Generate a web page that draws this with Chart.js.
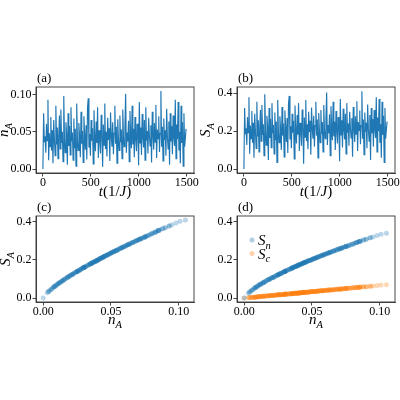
<!DOCTYPE html>
<html>
<head>
<meta charset="utf-8">
<script src="https://cdn.jsdelivr.net/npm/chart.js@4.4.1/dist/chart.umd.min.js"></script>
<style>
  html, body { margin: 0; padding: 0; background: #fff; }
  #wrap { position: relative; width: 400px; height: 400px; }
  .cell { position: absolute; width: 200px; height: 200px; }
</style>
</head>
<body>
<div id="wrap">
  <div class="cell" style="left:0;top:0"><canvas id="ca" width="200" height="200"></canvas></div>
  <div class="cell" style="left:200px;top:0"><canvas id="cb" width="200" height="200"></canvas></div>
  <div class="cell" style="left:0;top:200px"><canvas id="cc" width="200" height="200"></canvas></div>
  <div class="cell" style="left:200px;top:200px"><canvas id="cd" width="200" height="200"></canvas></div>
</div>
<script>
// time step between samples, in units of 1/J
const timeStep = 7.5;

// n_A(t)
const nA = [
  0.000,0.075,0.036,0.044,0.022,0.061,0.038,0.093,0.012,0.048,
  0.030,0.070,0.025,0.052,0.008,0.066,0.040,0.018,0.085,0.033,
  0.056,0.014,0.045,0.072,0.027,0.080,0.035,0.050,0.010,0.098,
  0.041,0.022,0.063,0.046,0.006,0.075,0.031,0.058,0.019,0.083,
  0.037,0.049,0.012,0.068,0.028,0.054,0.004,0.088,0.039,0.025,
  0.062,0.043,0.016,0.077,0.034,0.051,0.009,0.071,0.045,0.026,
  0.059,0.013,0.082,0.095,0.029,0.047,0.018,0.066,0.038,0.055,
  0.007,0.079,0.042,0.024,0.064,0.035,0.083,0.015,0.052,0.040,
  0.021,0.073,0.046,0.003,0.060,0.032,0.088,0.027,0.050,0.017,
  0.069,0.039,0.055,0.011,0.076,0.044,0.030,0.063,0.020,0.048,
  0.085,0.034,0.057,0.008,0.067,0.041,0.025,0.072,0.036,0.053,
  0.014,0.080,0.043,0.030,0.058,0.101,0.022,0.049,0.037,0.065,
  0.010,0.078,0.045,0.028,0.085,0.033,0.054,0.016,0.070,0.040,
  0.024,0.061,0.047,0.005,0.090,0.035,0.056,0.019,0.074,0.042,
  0.029,0.066,0.012,0.083,0.038,0.051,0.021,0.069,0.044,0.031,
  0.059,0.009,0.077,0.046,0.026,0.062,0.036,0.086,0.015,0.053,
  0.041,0.071,0.023,0.048,0.105,0.030,0.057,0.011,0.068,0.039,
  0.052,0.018,0.081,0.044,0.027,0.064,0.006,0.075,0.037,0.058,
  0.020,0.072,0.043,0.031,0.093,0.014,0.060,0.040,0.090,0.025,
  0.050,0.008,0.085,0.035,0.063,0.004,0.075,0.030,0.042,0.054
];

// S_A(t)
const SA = [
  0.000,0.321,0.184,0.214,0.126,0.274,0.191,0.378,0.080,0.229,
  0.160,0.305,0.139,0.243,0.059,0.291,0.199,0.109,0.354,0.172,
  0.257,0.090,0.218,0.311,0.147,0.337,0.180,0.236,0.070,0.394,
  0.203,0.126,0.281,0.222,0.047,0.321,0.164,0.264,0.113,0.347,
  0.188,0.232,0.080,0.298,0.152,0.250,0.035,0.363,0.195,0.139,
  0.278,0.210,0.100,0.327,0.176,0.240,0.064,0.308,0.218,0.143,
  0.268,0.085,0.344,0.385,0.156,0.225,0.109,0.291,0.191,0.254,
  0.053,0.334,0.207,0.135,0.285,0.180,0.347,0.095,0.243,0.199,
  0.122,0.314,0.222,0.028,0.271,0.168,0.363,0.147,0.236,0.104,
  0.302,0.195,0.254,0.075,0.324,0.214,0.160,0.281,0.118,0.229,
  0.354,0.176,0.261,0.059,0.295,0.203,0.139,0.311,0.184,0.247,
  0.090,0.337,0.210,0.160,0.264,0.403,0.126,0.232,0.188,0.288,
  0.070,0.330,0.218,0.152,0.354,0.172,0.250,0.100,0.305,0.199,
  0.135,0.274,0.225,0.041,0.369,0.180,0.257,0.113,0.318,0.207,
  0.156,0.291,0.080,0.347,0.191,0.240,0.122,0.302,0.214,0.164,
  0.268,0.064,0.327,0.222,0.143,0.278,0.184,0.357,0.095,0.247,
  0.203,0.308,0.131,0.229,0.410,0.160,0.261,0.075,0.298,0.195,
  0.243,0.109,0.340,0.214,0.147,0.285,0.047,0.321,0.188,0.264,
  0.118,0.311,0.210,0.164,0.378,0.090,0.271,0.199,0.369,0.139,
  0.236,0.059,0.354,0.180,0.281,0.035,0.321,0.160,0.207,0.250
];

// S_n
const Sn = [
  0.000,0.271,0.160,0.185,0.111,0.233,0.166,0.316,0.072,0.197,
  0.140,0.258,0.122,0.208,0.054,0.247,0.172,0.097,0.297,0.150,
  0.219,0.081,0.188,0.263,0.129,0.283,0.157,0.202,0.063,0.328,
  0.176,0.111,0.239,0.191,0.043,0.271,0.143,0.225,0.100,0.291,
  0.163,0.199,0.072,0.252,0.133,0.214,0.032,0.304,0.169,0.122,
  0.236,0.181,0.089,0.275,0.153,0.206,0.058,0.260,0.188,0.126,
  0.228,0.076,0.289,0.321,0.137,0.194,0.097,0.247,0.166,0.217,
  0.048,0.281,0.179,0.119,0.242,0.157,0.291,0.085,0.208,0.172,
  0.108,0.265,0.191,0.026,0.231,0.147,0.304,0.129,0.202,0.093,
  0.256,0.169,0.217,0.068,0.273,0.185,0.140,0.239,0.105,0.197,
  0.297,0.153,0.223,0.054,0.250,0.176,0.122,0.263,0.160,0.211,
  0.081,0.283,0.181,0.140,0.225,0.335,0.111,0.199,0.163,0.244,
  0.063,0.278,0.188,0.133,0.297,0.150,0.214,0.089,0.258,0.172,
  0.119,0.233,0.194,0.038,0.309,0.157,0.219,0.100,0.268,0.179,
  0.137,0.247,0.072,0.291,0.166,0.206,0.108,0.256,0.185,0.143,
  0.228,0.058,0.275,0.191,0.126,0.236,0.160,0.299,0.085,0.211,
  0.176,0.260,0.116,0.197,0.340,0.140,0.223,0.068,0.252,0.169,
  0.208,0.097,0.286,0.185,0.129,0.242,0.043,0.271,0.163,0.225,
  0.105,0.263,0.181,0.143,0.316,0.081,0.231,0.172,0.309,0.122,
  0.202,0.054,0.297,0.157,0.239,0.032,0.271,0.140,0.179,0.214
];

// S_c
const Sc = [
  0.000,0.050,0.024,0.029,0.015,0.041,0.025,0.062,0.008,0.032,
  0.020,0.047,0.017,0.035,0.005,0.044,0.027,0.012,0.057,0.022,
  0.038,0.009,0.030,0.048,0.018,0.054,0.023,0.034,0.007,0.066,
  0.027,0.015,0.042,0.031,0.004,0.050,0.021,0.039,0.013,0.056,
  0.025,0.033,0.008,0.046,0.019,0.036,0.003,0.059,0.026,0.017,
  0.042,0.029,0.011,0.052,0.023,0.034,0.006,0.048,0.030,0.017,
  0.040,0.009,0.055,0.064,0.019,0.031,0.012,0.044,0.025,0.037,
  0.005,0.053,0.028,0.016,0.043,0.023,0.056,0.010,0.035,0.027,
  0.014,0.049,0.031,0.002,0.040,0.021,0.059,0.018,0.034,0.011,
  0.046,0.026,0.037,0.007,0.051,0.029,0.020,0.042,0.013,0.032,
  0.057,0.023,0.038,0.005,0.045,0.027,0.017,0.048,0.024,0.036,
  0.009,0.054,0.029,0.020,0.039,0.068,0.015,0.033,0.025,0.044,
  0.007,0.052,0.030,0.019,0.057,0.022,0.036,0.011,0.047,0.027,
  0.016,0.041,0.031,0.003,0.060,0.023,0.038,0.013,0.050,0.028,
  0.019,0.044,0.008,0.056,0.025,0.034,0.014,0.046,0.029,0.021,
  0.040,0.006,0.052,0.031,0.017,0.042,0.024,0.058,0.010,0.036,
  0.027,0.048,0.015,0.032,0.070,0.020,0.038,0.007,0.046,0.026,
  0.035,0.012,0.054,0.029,0.018,0.043,0.004,0.050,0.025,0.039,
  0.013,0.048,0.029,0.021,0.062,0.009,0.040,0.027,0.060,0.017,
  0.034,0.005,0.057,0.023,0.042,0.003,0.050,0.020,0.028,0.036
];

const timeTicks = [0, 500, 1000, 1500];
const nTicks = [0, 0.05, 0.10];
const sTicks = [0, 0.2, 0.4];

const BLUE = '#1f77b4';
const SERIF = '"Liberation Serif", "DejaVu Serif", serif';

const times = nA.map((v, i) => i * timeStep);

// mixed italic / subscript text, centred on cx (or starting at cx), baseline at by
function drawRich(ctx, segs, cx, by, align) {
  const fontOf = s => (s.it ? 'italic ' : '') + (s.sub ? '10.5px ' : '15px ') + SERIF;
  let total = 0;
  segs.forEach(s => { ctx.font = fontOf(s); total += ctx.measureText(s.t).width; });
  let x = align === 'left' ? cx : cx - total / 2;
  ctx.textAlign = 'left';
  ctx.textBaseline = 'alphabetic';
  segs.forEach(s => {
    ctx.font = fontOf(s);
    ctx.fillText(s.t, x, by + (s.sub ? 3.5 : 0));
    x += ctx.measureText(s.t).width;
  });
}

const deco = {
  id: 'deco',
  afterDraw(chart, args, o) {
    const { ctx, chartArea: a } = chart;
    ctx.save();
    ctx.strokeStyle = '#333';
    ctx.lineWidth = 0.9;
    ctx.strokeRect(a.left, a.top, a.right - a.left, a.bottom - a.top);
    ctx.fillStyle = '#000';
    ctx.font = '13px ' + SERIF;
    ctx.textAlign = 'left';
    ctx.textBaseline = 'alphabetic';
    ctx.fillText(o.panel, a.left + 1, a.top - 5);
    if (o.xTitle) drawRich(ctx, o.xTitle, (a.left + a.right) / 2, o.xTitleY);
    if (o.legend) {
      o.legend.forEach((item, k) => {
        const y = a.top + 24 + k * 13.5;
        ctx.fillStyle = item.color;
        ctx.beginPath();
        ctx.arc(a.left + 15, y, 2.5, 0, Math.PI * 2);
        ctx.fill();
        ctx.fillStyle = '#000';
        drawRich(ctx, item.label, a.left + 21, y + 5, 'left');
      });
    }
    if (o.yTitle) {
      ctx.translate(o.yTitleX, (a.top + a.bottom) / 2);
      ctx.rotate(-Math.PI / 2);
      drawRich(ctx, o.yTitle, 0, 0);
    }
    ctx.restore();
  }
};

function axis(min, max, ticks, digits, fit, pad) {
  return {
    type: 'linear',
    min: min,
    max: max,
    afterBuildTicks: s => { s.ticks = ticks.map(v => ({ value: v })); },
    afterFit: fit,
    grid: { drawOnChartArea: false, drawTicks: true, tickLength: 3.5, color: '#333', lineWidth: 0.9 },
    border: { display: true, color: '#333', width: 0.9 },
    ticks: {
      color: '#000',
      padding: pad,
      maxRotation: 0,
      font: { family: SERIF, size: 12 },
      callback: v => digits === null ? String(v) : Number(v).toFixed(digits)
    }
  };
}

function makeChart(id, cfg) {
  return new Chart(document.getElementById(id).getContext('2d'), {
    type: cfg.type,
    data: { datasets: cfg.datasets },
    options: {
      responsive: false,
      animation: false,
      layout: { padding: cfg.padding },
      plugins: { legend: { display: false }, tooltip: { enabled: false }, deco: cfg.deco },
      scales: {
        x: axis(cfg.x[0], cfg.x[1], cfg.xTicks, cfg.xDigits, s => { s.height = cfg.xh; }, -1),
        y: axis(cfg.y[0], cfg.y[1], cfg.yTicks, cfg.yDigits, s => { s.width = cfg.yw; }, 1)
      }
    },
    plugins: [deco]
  });
}

const lineStyle = { borderColor: BLUE, borderWidth: 1.15, pointRadius: 0, tension: 0, fill: false };
const dotStyle = c => ({ backgroundColor: c, borderWidth: 0, pointRadius: 2.5 });

const tLabel = [{ t: 't', it: true }, { t: '(1/' }, { t: 'J', it: true }, { t: ')' }];
const nLabel = [{ t: 'n', it: true }, { t: 'A', it: true, sub: true }];
const sLabel = [{ t: 'S', it: true }, { t: 'A', it: true, sub: true }];

makeChart('ca', {
  type: 'line',
  datasets: [{ data: times.map((t, i) => ({ x: t, y: nA[i] })), ...lineStyle }],
  x: [-72, 1575], xTicks: timeTicks, xDigits: null,
  y: [-0.00525, 0.11025], yTicks: nTicks, yDigits: 2,
  padding: { top: 87, right: 6, left: 0, bottom: 0 }, xh: 27, yw: 36,
  deco: { panel: '(a)', xTitle: tLabel, xTitleY: 196, yTitle: nLabel, yTitleX: 8 }
});

makeChart('cb', {
  type: 'line',
  datasets: [{ data: times.map((t, i) => ({ x: t, y: SA[i] })), ...lineStyle }],
  x: [-72, 1575], xTicks: timeTicks, xDigits: null,
  y: [-0.021, 0.432], yTicks: sTicks, yDigits: 1,
  padding: { top: 87, right: 5, left: 0, bottom: 0 }, xh: 27, yw: 37,
  deco: { panel: '(b)', xTitle: tLabel, xTitleY: 196, yTitle: sLabel, yTitleX: 10 }
});

makeChart('cc', {
  type: 'scatter',
  datasets: [{ data: nA.map((n, i) => ({ x: n, y: SA[i] })), ...dotStyle('rgba(31,119,180,0.3)') }],
  x: [-0.0053, 0.1113], xTicks: nTicks, xDigits: 2,
  y: [-0.0205, 0.4305], yTicks: sTicks, yDigits: 1,
  padding: { top: 16, right: 6, left: 0, bottom: 0 }, xh: 98, yw: 36,
  deco: { panel: '(c)', xTitle: nLabel, xTitleY: 124, yTitle: sLabel, yTitleX: 10 }
});

makeChart('cd', {
  type: 'scatter',
  datasets: [
    { data: nA.map((n, i) => ({ x: n, y: Sn[i] })), ...dotStyle('rgba(31,119,180,0.3)') },
    { data: nA.map((n, i) => ({ x: n, y: Sc[i] })), ...dotStyle('rgba(255,127,14,0.3)') }
  ],
  x: [-0.0053, 0.1113], xTicks: nTicks, xDigits: 2,
  y: [-0.0205, 0.4305], yTicks: sTicks, yDigits: 1,
  padding: { top: 16, right: 5, left: 0, bottom: 0 }, xh: 98, yw: 37,
  deco: {
    panel: '(d)', xTitle: nLabel, xTitleY: 124,
    legend: [
      { color: 'rgba(31,119,180,0.35)', label: [{ t: 'S', it: true }, { t: 'n', it: true, sub: true }] },
      { color: 'rgba(255,127,14,0.35)', label: [{ t: 'S', it: true }, { t: 'c', it: true, sub: true }] }
    ]
  }
});
</script>
</body>
</html>
